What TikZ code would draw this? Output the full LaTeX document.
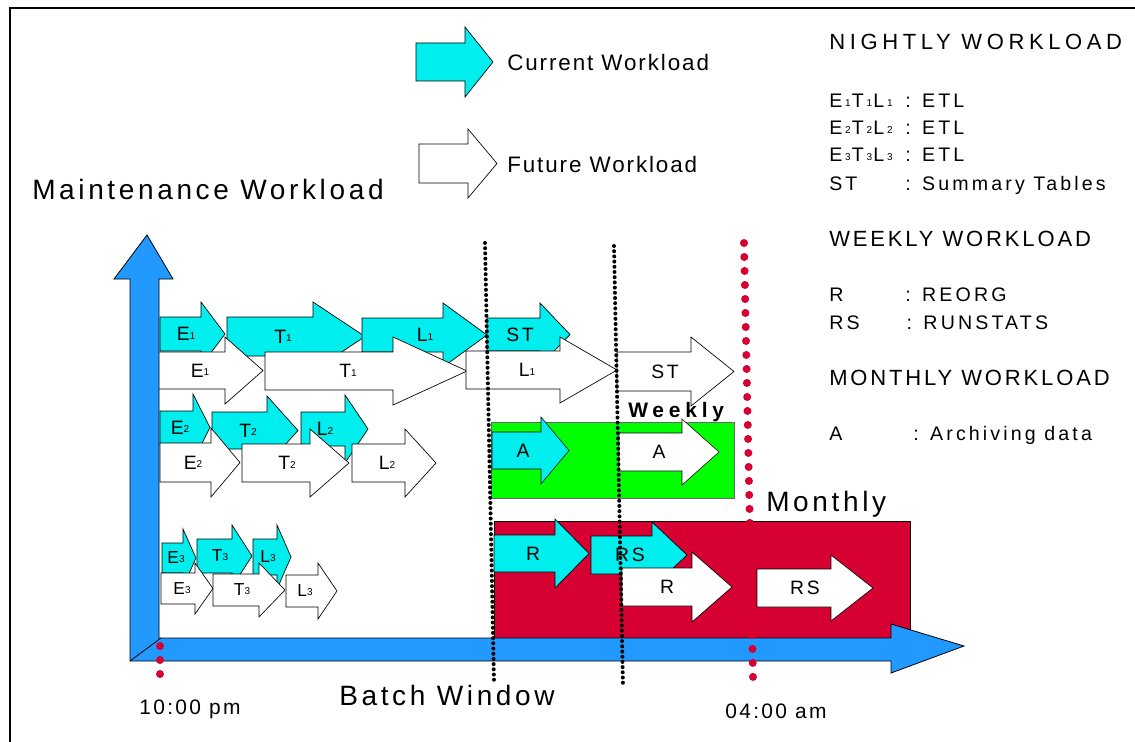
\documentclass[tikz,border=0pt]{standalone}
\usepackage{fontspec}
\setmainfont{Liberation Sans}
\newfontfamily\fntbig[LetterSpace=13]{Liberation Sans}
\newfontfamily\fntleg[LetterSpace=8.5]{Liberation Sans}
\newfontfamily\fnthead[LetterSpace=13]{Liberation Sans}
\newfontfamily\fntnight[LetterSpace=21]{Liberation Sans}
\newfontfamily\fntitem[LetterSpace=16]{Liberation Sans}
\newfontfamily\fntlab[LetterSpace=14]{Liberation Sans}
\newfontfamily\fnttime[LetterSpace=11]{Liberation Sans}
\newfontfamily\fntweek[LetterSpace=23]{Liberation Sans}

\definecolor{curcyan}{RGB}{0,238,238}
\definecolor{axisblue}{RGB}{34,153,255}
\definecolor{weekgreen}{RGB}{0,255,0}
\definecolor{monthred}{RGB}{215,0,50}

% small job index after E, T and L
\newcommand{\ix}[1]{\raisebox{1pt}{\fontsize{7.5}{8}\selectfont#1}}
% the same in the key, set a little wider
\newcommand{\ixk}[1]{\kern2pt\raisebox{1pt}{\fontsize{7.5}{8}\selectfont#1}\kern1pt}
% block arrow: [style] x0, head base, tip, body top, body bottom, head top
\newcommand{\jobarrow}[7][]{%
	\draw[#1] (#2,#5) -- (#3,#5) -- (#3,#7) -- (#4,{(#5+#6)/2}) -- (#3,{#5+#6-#7}) -- (#3,#6) -- (#2,#6) -- cycle;}

\begin{document}
\begin{tikzpicture}[x=0.75pt, y=-0.75pt,
		job/.style={draw=black, line width=0.5pt},
		lab/.style={font=\fntlab\fontsize{14.5}{16}\selectfont, inner sep=0pt},
		labsm/.style={font=\fntlab\fontsize{13}{15}\selectfont, inner sep=0pt},
		title/.style={font=\fntbig\fontsize{21}{24}\selectfont, anchor=west, inner sep=0pt},
		legtext/.style={font=\fntleg\fontsize{16.8}{19}\selectfont, anchor=west, inner sep=0pt},
		head/.style={font=\fnthead\fontsize{16.5}{19}\selectfont, anchor=west, inner sep=0pt},
		item/.style={font=\fntitem\fontsize{14.7}{17}\selectfont, anchor=west, inner sep=0pt},
		timetext/.style={font=\fnttime\fontsize{15.7}{18}\selectfont, inner sep=0pt},
		blackdots/.style={line width=3pt, line cap=round, dash pattern=on 0pt off 3.9pt},
		reddots/.style={monthred, line width=6pt, line cap=round, dash pattern=on 0pt off 10.5pt}]
	\useasboundingbox (0,0) rectangle (1135,742);
	% page frame, open to the right and below
	\draw[line width=0.8pt] (10,742) -- (10,8) -- (1135,8);
	% legend
	\jobarrow[job, fill=curcyan]{416}{465}{493}{43}{81}{27}
	\node[legtext] (cur-txt) at (507,62) {Current Workload};
	\jobarrow[job, fill=white]{419}{468}{497}{144}{183}{129}
	\node[legtext] (fut-txt) at (507,164) {Future Workload};
	\node[title] (y-title) at (32,189) {Maintenance Workload};
	% key on the right
	\node[font=\fntnight\fontsize{16.5}{19}\selectfont, anchor=west, inner sep=0pt] (night) at (829,42) {NIGHTLY WORKLOAD};
	\foreach \nm/\y/\kname/\kval in {etl1/101/E\ixk1T\ixk1L\ixk1/ETL, etl2/128/E\ixk2T\ixk2L\ixk2/ETL,
			etl3/155/E\ixk3T\ixk3L\ixk3/ETL, st/185/ST/Summary Tables}
		\node[item] (\nm) at (829,\y) {\makebox[57pt][l]{\kname}: \kval};
	\node[head] (week) at (829,239) {WEEKLY WORKLOAD};
	\node[item] (reorg) at (829,295) {\makebox[57pt][l]{R}: REORG};
	\node[item] (runstats) at (829,323) {\makebox[58pt][l]{RS}: RUNSTATS};
	\node[head] (month) at (829,378) {MONTHLY WORKLOAD};
	\node[item] (archive) at (829,435) {\makebox[63pt][l]{A}: Archiving data};
	% weekly and monthly frames
	\draw[fill=weekgreen, draw=black!60, line width=0.5pt] (491,422) rectangle (734,498);
	\draw[fill=monthred, draw=black, line width=0.5pt] (494,521) rectangle (910,638);
	% nightly ETL jobs, current one first so the future one lies on top
	\foreach \nm/\fc/\xa/\xb/\xc/\ya/\yb/\yh/\lx/\jtext in {
			c-e1/curcyan/160/201/225/317/351/302/186/E\ix1, c-t1/curcyan/227/313/365/317/356/302/283/T\ix1,
			c-l1/curcyan/362/443/487/318/352/303/425/L\ix1, c-st/curcyan/487/540/570/318/351/303/520/ST,
			w-e1/white/158/225/263/352/389/337/200/E\ix1, w-t1/white/265/393/467/352/390/337/348/T\ix1,
			w-l1/white/466/560/617/351/389/337/527/L\ix1, w-st/white/617/691/734/352/391/337/665/ST,
			c-e2/curcyan/160/193/210/411/444/394/180/E\ix2, c-t2/curcyan/212/267/298/412/449/396/248/T\ix2,
			c-l2/curcyan/301/345/368/412/446/395/325/L\ix2,
			w-e2/white/160/211/240/443/482/428/193/E\ix2, w-t2/white/242/310/349/444/482/429/287/T\ix2,
			w-l2/white/352/405/436/444/482/429/387/L\ix2} {
		\jobarrow[job, fill=\fc]{\xa}{\xb}{\xc}{\ya}{\yb}{\yh}
		\node[lab] (\nm) at (\lx,{(\ya+\yb)/2}) {\jtext};
	}
	\foreach \nm/\fc/\xa/\xb/\xc/\ya/\yb/\yh/\lx/\jtext in {
			c-e3/curcyan/162/183/196/543/573/529/176/E\ix3, c-t3/curcyan/197/232/252/539/573/525/220/T\ix3,
			c-l3/curcyan/253/277/291/539/575/525/268/L\ix3,
			w-e3/white/161/195/213/573/604/563/182/E\ix3, w-t3/white/213/259/285/574/606/563/242/T\ix3,
			w-l3/white/286/318/337/575/607/563/305/L\ix3} {
		\jobarrow[job, fill=\fc]{\xa}{\xb}{\xc}{\ya}{\yb}{\yh}
		\node[labsm] (\nm) at (\lx,{(\ya+\yb)/2}) {\jtext};
	}
	% archiving
	\foreach \nm/\fc/\xa/\xb/\xc/\ya/\yb/\yh/\lx in {c-a/curcyan/492/541/569/432/469/417/523, w-a/white/619/682/719/433/471/419/659} {
		\jobarrow[fill=\fc]{\xa}{\xb}{\xc}{\ya}{\yb}{\yh}
		\node[lab] (\nm) at (\lx,{(\ya+\yb)/2}) {A};
	}
	\node[font=\fntweek\bfseries\fontsize{15.7}{18}\selectfont, anchor=west, inner sep=0pt] (weekly) at (628,412) {Weekly};
	% reorg and runstats
	\foreach \nm/\fc/\xa/\xb/\xc/\ya/\yb/\yh/\lx/\jtext in {
			c-r/curcyan/494/555/589/535/572/519/533/R, c-rs/curcyan/591/652/687/536/574/522/630/RS,
			w-r/white/622/692/732/568/606/552/667/R, w-rs/white/757/831/873/569/607/555/805/RS} {
		\jobarrow[job, fill=\fc]{\xa}{\xb}{\xc}{\ya}{\yb}{\yh}
		\node[lab] (\nm) at (\lx,{(\ya+\yb)/2}) {\jtext};
	}
	\node[title] (monthly) at (766,504) {Monthly};
	% axes
	\draw[fill=axisblue, line width=0.6pt] (130,661) -- (130,279) -- (114,279) -- (147,235) -- (173,279) -- (159,279)
		-- (159,638) -- (891,638) -- (891,624) -- (964,646) -- (891,673) -- (891,661) -- cycle;
	\draw[line width=0.6pt] (130,661) -- (161,638);
	\node[title] (x-title) at (339,695) {Batch Window};
	\node[timetext] (t-start) at (190,709) {10:00 pm};
	\node[timetext] (t-end) at (776,711) {04:00 am};
	% time marks
	\draw[blackdots] (485,243) -- (494,682);
	\draw[blackdots] (614,246) -- (623,687);
	\draw[reddots] (744,243) -- (753,677);
	\draw[reddots] (160,646) -- (160,677);
\end{tikzpicture}
\end{document}
